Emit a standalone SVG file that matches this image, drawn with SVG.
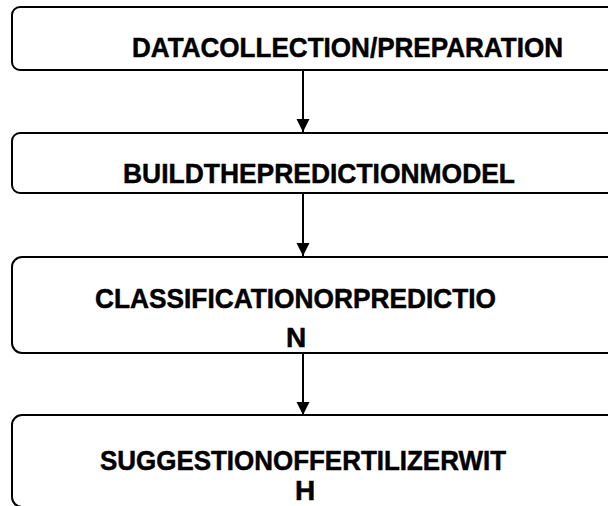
<svg xmlns="http://www.w3.org/2000/svg" width="608" height="506" viewBox="0 0 608 506">
  <style>
    .box { fill: #ffffff; stroke: #000000; stroke-width: 2; }
    .label { font-family: "Liberation Sans", Arial, sans-serif; font-weight: bold; font-size: 28px; fill: #000000; stroke: #000000; stroke-width: 0.5; }
    .edge { stroke: #000000; stroke-width: 2; fill: none; }
  </style>
  <defs>
    <marker id="arrowhead" markerUnits="userSpaceOnUse" markerWidth="14" markerHeight="14" refX="13" refY="7" orient="auto">
      <path d="M0,0.5 L13,7 L0,13.5 Z" fill="#000000"/>
    </marker>
  </defs>

  <rect width="608" height="506" fill="#ffffff"/>

  <g id="connectors">
    <line class="edge" x1="303" y1="70" x2="303" y2="132" marker-end="url(#arrowhead)"/>
    <line class="edge" x1="303" y1="193" x2="303" y2="256" marker-end="url(#arrowhead)"/>
    <line class="edge" x1="303" y1="353" x2="303" y2="415" marker-end="url(#arrowhead)"/>
  </g>

  <g id="data-collection">
    <rect class="box" x="12" y="7" width="620" height="63" rx="8" ry="8"/>
    <text class="label" x="132" y="57" textLength="431" lengthAdjust="spacingAndGlyphs">DATACOLLECTION/PREPARATION</text>
  </g>

  <g id="build-model">
    <rect class="box" x="12" y="133" width="620" height="60" rx="8" ry="8"/>
    <text class="label" x="123" y="183" textLength="392" lengthAdjust="spacingAndGlyphs">BUILDTHEPREDICTIONMODEL</text>
  </g>

  <g id="classification">
    <rect class="box" x="12" y="257" width="620" height="96" rx="10" ry="10"/>
    <text class="label" x="95" y="308" textLength="401" lengthAdjust="spacingAndGlyphs">CLASSIFICATIONORPREDICTIO</text>
    <text class="label" x="296" y="347" text-anchor="middle">N</text>
  </g>

  <g id="suggestion">
    <rect class="box" x="12" y="415" width="620" height="92" rx="10" ry="10"/>
    <text class="label" x="100" y="470" textLength="406" lengthAdjust="spacingAndGlyphs">SUGGESTIONOFFERTILIZERWIT</text>
    <text class="label" x="305" y="500" text-anchor="middle">H</text>
  </g>
</svg>
